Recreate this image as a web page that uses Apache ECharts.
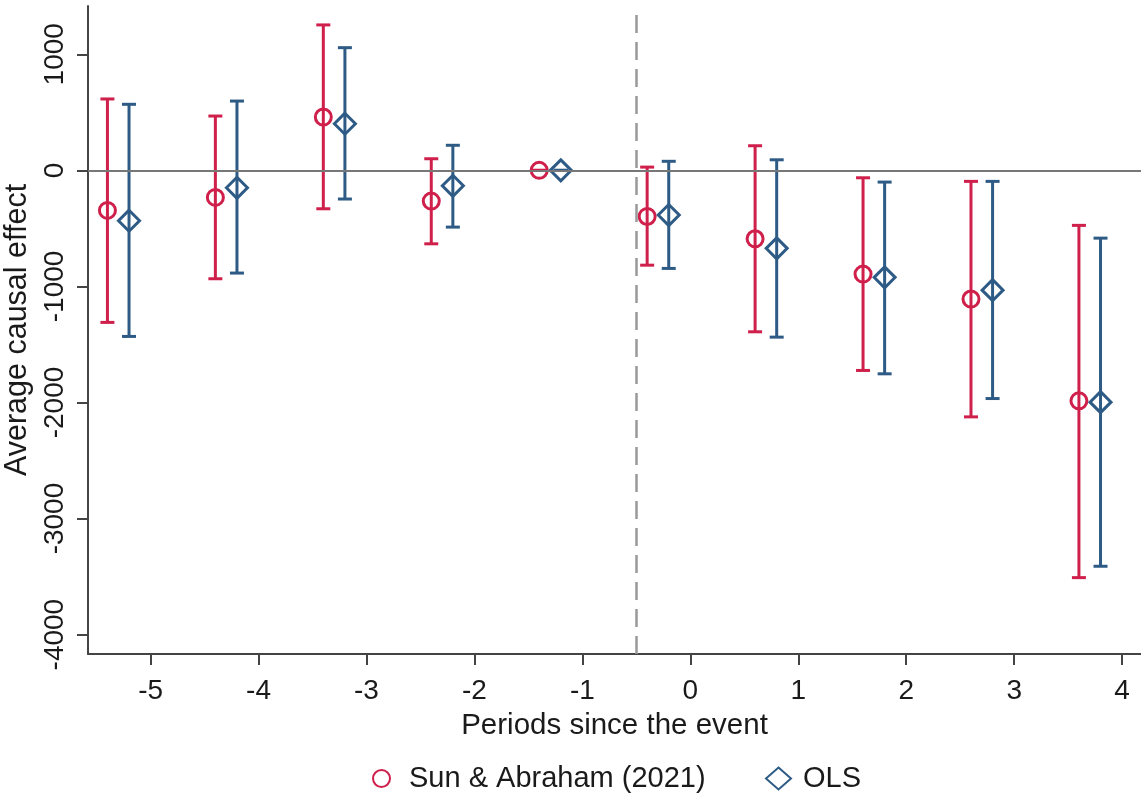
<!DOCTYPE html>
<html>
<head>
<meta charset="utf-8">
<script src="https://cdn.jsdelivr.net/npm/echarts@6/dist/echarts.min.js"></script>
<style>
html,body{margin:0;padding:0;background:#fff}
#Chart{width:1141px;height:800px}
</style>
</head>
<body>
<div id="Chart"></div>
<script>
// 数据
var periods=[-5,-4,-3,-2,-1,0,1,2,3,4]
var saEst=[-345,-233,459,-265,0,-397,-590,-894,-1109,-1986]
var saLo=[-1310,-934,-331,-633,0,-817,-1391,-1724,-2124,-3509]
var saHi=[615,468,1253,100,0,28,212,-64,-95,-474]
var olsEst=[-434,-150,402,-133,0,-385,-672,-922,-1032,-1997]
var olsLo=[-1431,-885,-247,-489,0,-845,-1437,-1753,-1966,-3411]
var olsHi=[569,597,1057,216,0,78,91,-101,-95,-584]
var xTicks=[-5,-4,-3,-2,-1,0,1,2,3,4]
var yTicks=[-4000,-3000,-2000,-1000,0,1000]

var red='#cf1f4b',blue='#2e5b85'
var font="'Liberation Sans', Arial, sans-serif"

function pointData(est,shift){
    var arr=[]
    for(var i=0;i<periods.length;i++){
        arr.push([periods[i]+shift,est[i]])
    }
    return arr
}
function barData(lo,hi,shift){
    var arr=[]
    for(var i=0;i<periods.length;i++){
        arr.push([periods[i]+shift,lo[i],hi[i]])
    }
    return arr
}

//误差线
function errRender(color){
    return function(params,api){
        var x=api.value(0)
        var pLo=api.coord([x,api.value(1)])
        var pHi=api.coord([x,api.value(2)])
        var st={stroke:color,lineWidth:3}
        return {type:'group',children:[
            {type:'line',shape:{x1:pLo[0],y1:pLo[1],x2:pHi[0],y2:pHi[1]},style:st},
            {type:'line',shape:{x1:pHi[0]-7,y1:pHi[1],x2:pHi[0]+7,y2:pHi[1]},style:st},
            {type:'line',shape:{x1:pLo[0]-7,y1:pLo[1],x2:pLo[0]+7,y2:pLo[1]},style:st}
        ]}
    }
}

function drawChar(){
    var myChart=echarts.init(document.getElementById('Chart'))
    var option={
        animation:false,
        backgroundColor:'#fff',
        grid:{left:88,right:0,top:6,bottom:146,outerBoundsMode:'none',containLabel:false},
        legend:[
            {
                bottom:2,
                left:367,
                itemWidth:17,
                itemHeight:17,
                textStyle:{fontFamily:font,fontSize:29,color:'#1a1a1a',padding:[0,0,0,14]},
                data:['Sun & Abraham (2021)']
            },
            {
                bottom:2,
                left:760,
                itemWidth:25,
                itemHeight:22,
                textStyle:{fontFamily:font,fontSize:29,color:'#1a1a1a',padding:[0,0,0,7]},
                data:['OLS']
            }
        ],
        xAxis:{
            type:'value',
            min:-5.58,
            max:4.175,
            name:'Periods since the event',
            nameLocation:'middle',
            nameGap:57,
            nameTextStyle:{fontFamily:font,fontSize:29.5,color:'#1a1a1a'},
            axisLine:{onZero:false,lineStyle:{color:'#444',width:2}},
            axisTick:{length:11,lineStyle:{color:'#444',width:2},customValues:xTicks},
            axisLabel:{fontFamily:font,fontSize:28,color:'#1a1a1a',margin:23,customValues:xTicks},
            splitLine:{show:false}
        },
        yAxis:{
            type:'value',
            min:-4167,
            max:1416,
            name:'Average causal effect',
            nameLocation:'middle',
            nameRotate:90,
            nameGap:50,
            nameTextStyle:{fontFamily:font,fontSize:30.5,color:'#1a1a1a'},
            axisLine:{onZero:false,lineStyle:{color:'#444',width:2}},
            axisTick:{length:11,lineStyle:{color:'#444',width:2},customValues:yTicks},
            axisLabel:{
                fontFamily:font,fontSize:28,color:'#1a1a1a',margin:19,rotate:90,customValues:yTicks,
                formatter:function(v){return String(v)}
            },
            splitLine:{show:false}
        },
        series:[
            {
                type:'line',
                data:[],
                silent:true,
                z:1,
                markLine:{
                    symbol:'none',
                    silent:true,
                    label:{show:false},
                    data:[
                        {yAxis:0,lineStyle:{color:'#777',width:2,type:'solid'}},
                        {xAxis:-0.5,lineStyle:{color:'#999',width:2.5,type:[18,9]}}
                    ]
                }
            },
            {
                type:'custom',
                renderItem:errRender(red),
                data:barData(saLo,saHi,-0.4),
                z:2
            },
            {
                type:'custom',
                renderItem:errRender(blue),
                data:barData(olsLo,olsHi,-0.2),
                z:2
            },
            {
                name:'Sun & Abraham (2021)',
                type:'scatter',
                symbol:'circle',
                symbolSize:16,
                itemStyle:{color:'transparent',borderColor:red,borderWidth:3,opacity:1},
                data:pointData(saEst,-0.4),
                z:3
            },
            {
                name:'OLS',
                type:'scatter',
                symbol:'diamond',
                symbolSize:[21,21],
                itemStyle:{color:'transparent',borderColor:blue,borderWidth:3,opacity:1},
                data:pointData(olsEst,-0.2),
                z:3
            }
        ]
    }
    myChart.setOption(option)
}

drawChar()
</script>
</body>
</html>
